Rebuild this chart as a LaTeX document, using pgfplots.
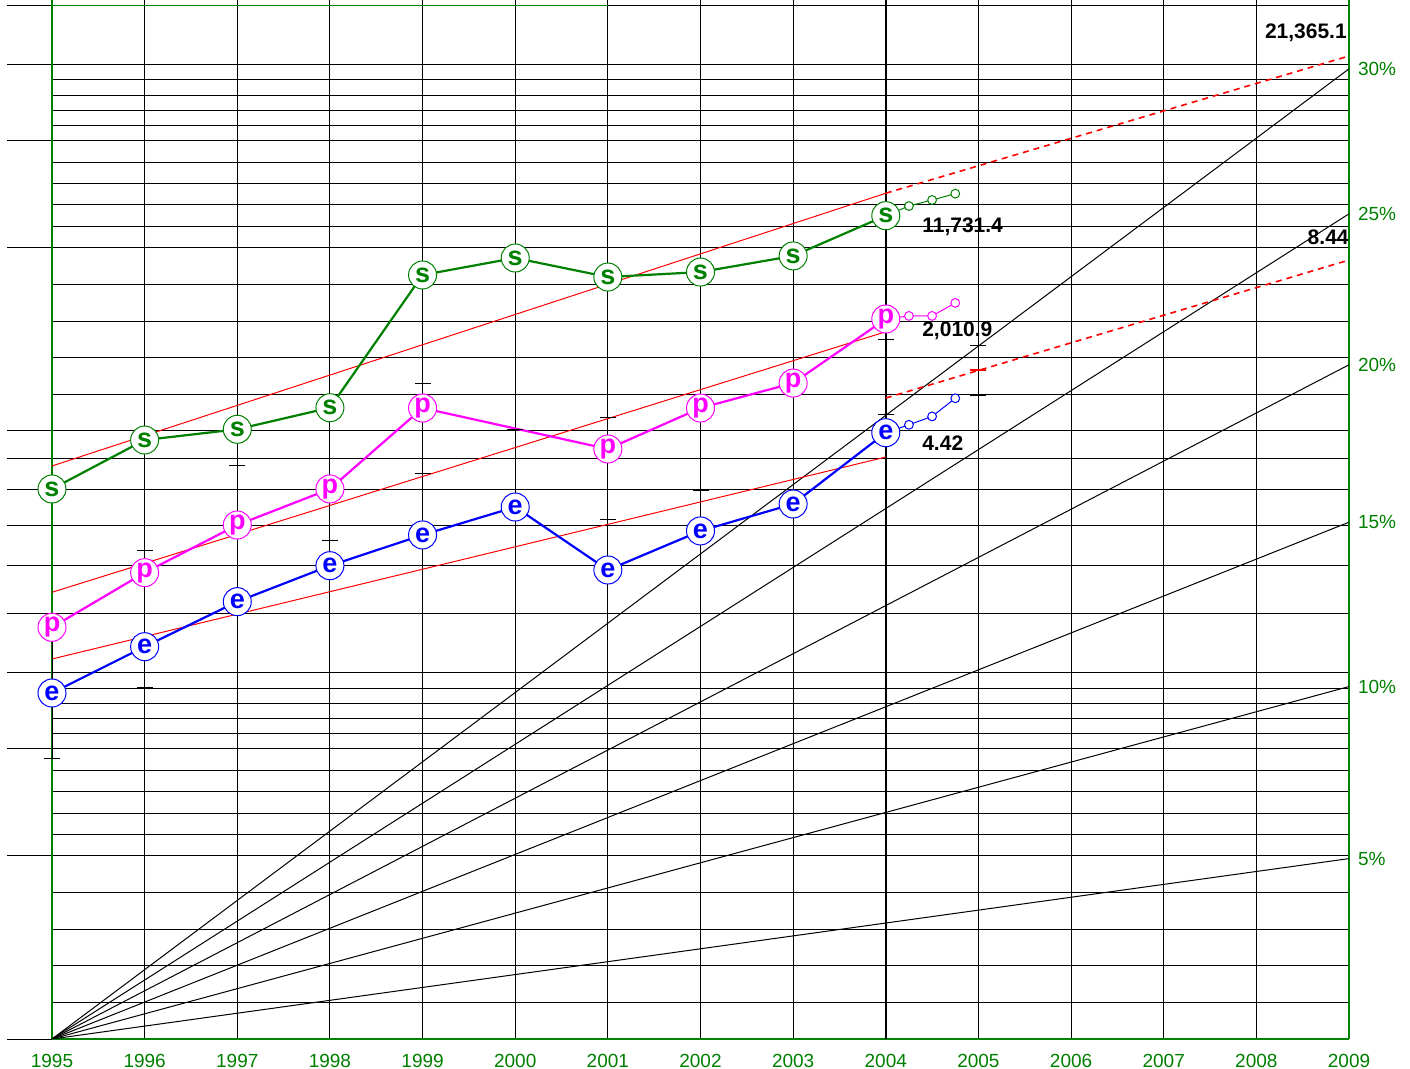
\documentclass[border=0pt]{standalone}
\usepackage{fontspec}
\setmainfont{Liberation Sans}
\usepackage{pgfplots}
\pgfplotsset{compat=1.18}
\definecolor{dgreen}{RGB}{0,128,0}
\definecolor{mag}{RGB}{255,0,255}
\definecolor{blu}{RGB}{0,0,255}
\definecolor{rd}{RGB}{255,0,0}
\pgfplotsset{
  lettered/.style n args={2}{color=#1, line width=1.1pt, mark=none,
    nodes near coords={#2}, nodes near coords align={center},
    every node near coord/.style={circle, draw=#1, fill=white, line width=0.5pt,
      minimum size=14pt, inner sep=0pt, text=#1,
      font=\bfseries\fontsize{13.5}{13.5}\selectfont, anchor=center}},
  proj/.style={color=#1, line width=0.5pt, mark=*, mark size=2.2pt,
    mark options={fill=white, line width=0.5pt}, mark indices={2,3,4}},
  fan/.style={black, line width=0.5pt},
}
\begin{document}
\begin{tikzpicture}
\useasboundingbox (-26pt,-15pt) rectangle (679pt,519.5pt);
\begin{axis}[
  at={(0,0)}, anchor=south west,
  scale only axis, width=648.5pt, height=519.5pt,
  xmin=1995, xmax=2009, ymode=log, ymin=1, ymax=51.09,
  axis x line*=bottom, axis y line*=box,
  xtick={1995,1996,1997,1998,1999,2000,2001,2002,2003,2004,2005,2006,2007,2008,2009},
  xticklabels={1995,1996,1997,1998,1999,2000,2001,2002,2003,2004,2005,2006,2007,2008,2009},
  xticklabel style={text=dgreen, font=\fontsize{9.5}{10}\selectfont, yshift=-4pt},
  xtick style={draw=none},
  xtick align=inside,
  ytick={1,2,3,4,5,6,7,8,9,10,20,30,40,50},
  yticklabels={},
  minor ytick={1.1487,1.3195,1.5157,1.7411,2.1689,2.3522,2.5509,2.7663,3.1777,3.3659,3.5652,3.7764,
               11.487,13.195,15.157,17.411,21.689,23.522,25.509,27.663,31.777,33.659,35.652,37.764},
  ytick pos=left, ytick align=outside,
  major tick length=22.5pt, minor tick length=0pt,
  ytick style={black, line width=0.45pt},
  xmajorgrids, ymajorgrids, yminorgrids,
  major grid style={black, line width=0.45pt},
  minor grid style={black, line width=0.45pt},
  axis line style={-, dgreen, line width=0.75pt},
]
% partial green top line
\draw[dgreen, line width=0.75pt] (axis cs:1995,50) -- (axis cs:2001,50);
% thicker 2004 line
\addplot[black, line width=0.8pt] coordinates {(2004,1) (2004,51.09)};
% growth fan
\addplot[fan] coordinates {(1995,1) (2009,1.97993)};
\addplot[fan] coordinates {(1995,1) (2009,3.79750)};
\addplot[fan] coordinates {(1995,1) (2009,7.07571)};
\addplot[fan] coordinates {(1995,1) (2009,12.8392)};
\addplot[fan] coordinates {(1995,1) (2009,22.7374)};
\addplot[fan] coordinates {(1995,1) (2009,39.3738)};
% trend lines
\addplot[rd, line width=0.5pt] coordinates {(1995,8.753) (2004,24.58)};
\addplot[rd, line width=0.5pt] coordinates {(1995,5.426) (2004,14.55)};
\addplot[rd, line width=0.5pt] coordinates {(1995,4.215) (2004,9.054)};
\addplot[rd, line width=0.8pt, dash pattern=on 3pt off 2.5pt] coordinates {(2004,24.58) (2009,41.33)};
\addplot[rd, line width=0.8pt, dash pattern=on 3pt off 2.5pt] coordinates {(2004,11.32) (2009,19.09)};
% range bars
\addplot[black, line width=0.8pt] coordinates {(1995,4.752) (1995,2.894)};
\addplot[only marks, black, mark=-, mark size=4pt, mark options={line width=0.5pt}] coordinates {
 (1995,2.894) (1996,6.368) (1996,3.781) (1997,8.763) (1998,6.596) (1999,11.94) (1999,8.492)
 (2000,10.057) (2001,10.50) (2001,7.161) (2002,7.992) (2004,14.11) (2004,10.62) (2005,13.80) (2005,11.45)};
\addplot[only marks, rd, mark=-, mark size=4pt, mark options={line width=0.6pt}] coordinates {(2005,12.59)};
% projections
\addplot[proj=dgreen] coordinates {(2004,22.58) (2004.25,23.42) (2004.5,23.96) (2004.75,24.54)};
\addplot[proj=mag] coordinates {(2004,15.27) (2004.25,15.45) (2004.5,15.45) (2004.75,16.23)};
\addplot[proj=blu] coordinates {(2004,9.928) (2004.25,10.23) (2004.5,10.56) (2004.75,11.31)};
% series
\addplot[lettered={dgreen}{s}] coordinates {
 (1995,8.023) (1996,9.657) (1997,10.057) (1998,10.913) (1999,18.04) (2000,19.24)
 (2001,17.90) (2002,18.24) (2003,19.39) (2004,22.58)};
\addplot[lettered={mag}{p}] coordinates {
 (1995,4.752) (1996,5.844) (1997,7.000) (1998,8.023) (1999,10.90)
 (2001,9.334) (2002,10.90) (2003,11.98) (2004,15.27)};
\addplot[lettered={blu}{e}] coordinates {
 (1995,3.706) (1996,4.416) (1997,5.237) (1998,6.001) (1999,6.742) (2000,7.494)
 (2001,5.904) (2002,6.845) (2003,7.580) (2004,9.928)};
% value labels
\node[anchor=west, inner sep=0pt, font=\bfseries\fontsize{10.5}{11}\selectfont] at (axis cs:2004.39,21.61) {11,731.4};
\node[anchor=west, inner sep=0pt, font=\bfseries\fontsize{10.5}{11}\selectfont] at (axis cs:2004.39,14.59) {2,010.9};
\node[anchor=west, inner sep=0pt, font=\bfseries\fontsize{10.5}{11}\selectfont] at (axis cs:2004.39,9.538) {4.42};
\node[anchor=east, inner sep=0pt, font=\bfseries\fontsize{10.5}{11}\selectfont] at (axis cs:2008.98,45.20) {21,365.1};
\node[anchor=east, inner sep=0pt, font=\bfseries\fontsize{10.5}{11}\selectfont] at (axis cs:2009,20.81) {8.44};
\coordinate (r30) at (axis cs:2009,39.3738);
\coordinate (r25) at (axis cs:2009,22.7374);
\coordinate (r20) at (axis cs:2009,12.8392);
\coordinate (r15) at (axis cs:2009,7.07571);
\coordinate (r10) at (axis cs:2009,3.79750);
\coordinate (r5) at (axis cs:2009,1.97993);
\end{axis}
\begin{scope}[every node/.style={anchor=west, inner sep=0pt, xshift=4.3pt, text=dgreen, font=\fontsize{9.5}{10}\selectfont}]
\node at (r30) {30\%};
\node at (r25) {25\%};
\node at (r20) {20\%};
\node at (r15) {15\%};
\node at (r10) {10\%};
\node at (r5) {5\%};
\end{scope}
\end{tikzpicture}
\end{document}
